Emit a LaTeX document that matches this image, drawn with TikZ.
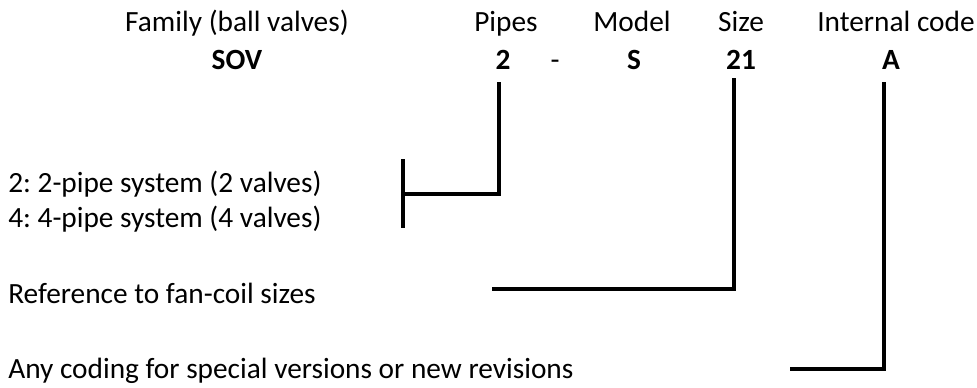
\documentclass[tikz,border=0pt]{standalone}
\usepackage{fontspec}
\setmainfont{Carlito}
\frenchspacing

\tikzset{
    head/.style={anchor=base,inner sep=0pt,font=\fontsize{22}{26}\selectfont},
    code/.style={anchor=base,inner sep=0pt,font=\fontsize{22}{26}\selectfont\bfseries},
    desc/.style={anchor=base west,inner sep=0pt,font=\fontsize{22}{26}\selectfont},
    link/.style={line width=3pt}
}

\begin{document}
\begin{tikzpicture}[x=0.75pt,y=-0.75pt]

        \useasboundingbox (0,0) rectangle (977,387);

        % headings
        \node[head] (family) at (237,31) {Family (ball valves)};
        \node[head] (pipes)  at (506,31) {Pipes};
        \node[head] (model)  at (632,31) {Model};
        \node[head] (size)   at (741,31) {Size};
        \node[head] (intern) at (896,31) {Internal code};

        % code
        \node[code] (sov)  at (237,69) {SOV};
        \node[code] (two)  at (503,69) {2};
        \node[head] (dash) at (555,69) {-};
        \node[code] (mod)  at (634,69) {S};
        \node[code] (num)  at (741,69) {21};
        \node[code] (rev)  at (891,69) {A};

        % descriptions
        \node[desc] (pipe2) at (8,192) {2: 2-pipe system (2 valves)};
        \node[desc] (pipe4) at (8,227) {4: 4-pipe system (4 valves)};
        \node[desc] (ref)   at (8,303) {Reference to fan-coil sizes};
        \node[desc] (any)   at (8,378) {Any coding for special versions or new revisions};

        % connectors
        \coordinate (pipesTop) at (499,82);
        \coordinate (pipesEnd) at (403,194);
        \coordinate (braceTop) at (403,159);
        \coordinate (braceBot) at (403,228);
        \coordinate (sizeTop)  at (734,78);
        \coordinate (sizeEnd)  at (492,289);
        \coordinate (revTop)   at (884,82);
        \coordinate (revEnd)   at (790,369);

        \draw[link] (pipesTop) |- (pipesEnd);
        \draw[link] (braceTop) -- (braceBot);
        \draw[link] (sizeTop) |- (sizeEnd);
        \draw[link] (revTop) |- (revEnd);

\end{tikzpicture}
\end{document}
